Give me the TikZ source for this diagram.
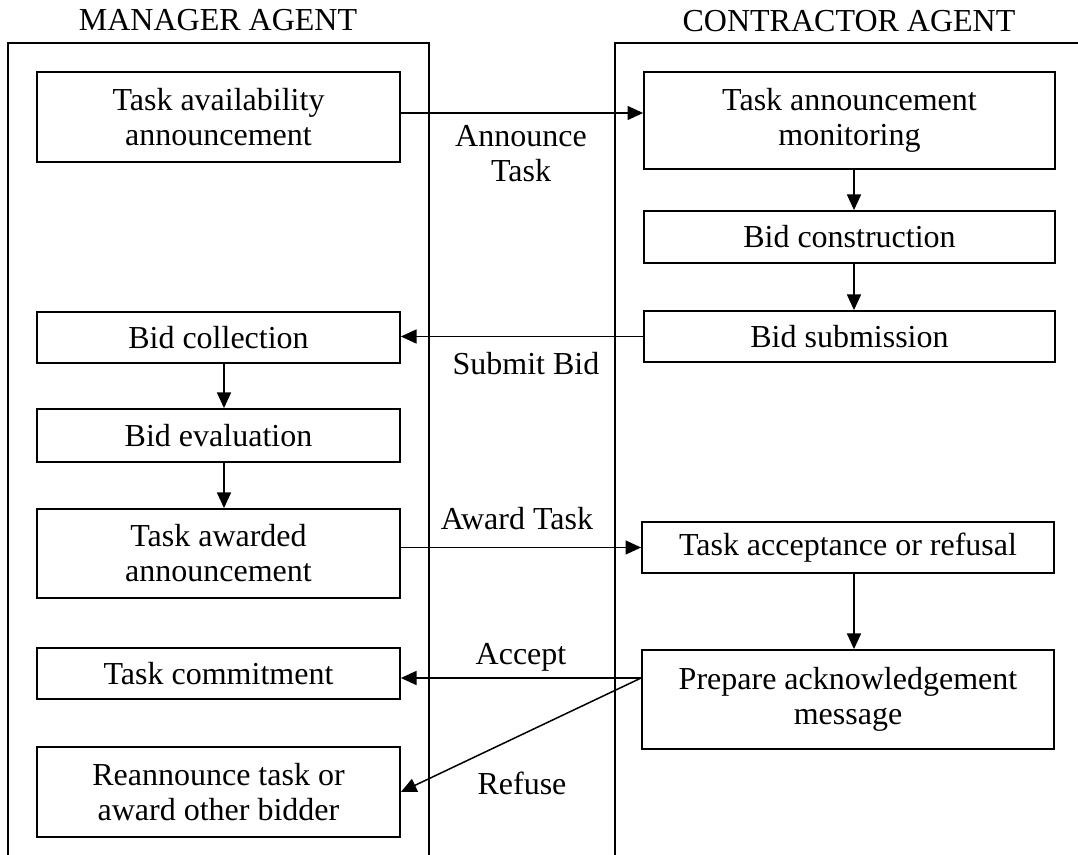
\documentclass[tikz,border=0pt]{standalone}
\usepackage{fontspec}
\setmainfont{Liberation Serif}
\usetikzlibrary{arrows.meta}
\begin{document}
\begin{tikzpicture}[x=0.5pt,y=-0.5pt,
  txt/.style={font=\fontsize{16}{17.5}\selectfont, align=center, inner sep=0pt},
  stepbox/.style={txt, draw, line width=0.9pt},
  mbox/.style={stepbox, minimum width=181.5pt},
  cbox/.style={stepbox, minimum width=205.5pt},
  lane/.style={line width=0.9pt},
  flow/.style={line width=0.75pt, -{Triangle[length=7.8pt,width=7pt]}},
  lbl/.style={txt}
]
\useasboundingbox (0,0) rectangle (1078,855);

% swimlanes, open at the bottom
\draw[lane] (8,860) -- (8,43) -- (429,43) -- (429,860);
\draw[lane] (615,860) -- (615,43) -- (1080,43);
\node[txt, anchor=base] (mtitle) at (218,31) {MANAGER AGENT};
\node[txt, anchor=base] (ctitle) at (849,32) {CONTRACTOR AGENT};

% manager steps
\node[mbox, minimum height=45pt]   (mA) at (218.5,117)   {Task availability\\announcement};
\node[mbox, minimum height=25.5pt] (mB) at (218.5,337.5) {Bid collection};
\node[mbox, minimum height=26.5pt] (mC) at (218.5,435.5) {Bid evaluation};
\node[mbox, minimum height=44.5pt] (mD) at (218.5,553.5) {Task awarded\\announcement};
\node[mbox, minimum height=25.5pt] (mE) at (218.5,673.5) {Task commitment};
\node[mbox, minimum height=45pt]   (mF) at (218.5,792)   {Reannounce task or\\award other bidder};

% contractor steps
\node[cbox, minimum height=48.5pt] (cA) at (849.5,120.5) {Task announcement\\monitoring};
\node[cbox, minimum height=26pt]   (cB) at (849.5,237)   {Bid construction};
\node[cbox, minimum height=25.5pt] (cC) at (849.5,336.5) {Bid submission};
\node[cbox, minimum width=206pt, minimum height=25.5pt] (cD) at (848,547.5) {Task acceptance or refusal};
\node[cbox, minimum width=206pt, minimum height=49.5pt] (cE) at (848,699.5) {Prepare acknowledgement\\message};

% internal flow
\draw[flow] ([xshift=2.75pt]mB.south) -- ([xshift=2.75pt]mB.south |- mC.north);
\draw[flow] ([xshift=2.75pt]mC.south) -- ([xshift=2.75pt]mC.south |- mD.north);
\draw[flow] ([xshift=2.25pt]cA.south) -- ([xshift=2.25pt]cA.south |- cB.north);
\draw[flow] ([xshift=2.25pt]cB.south) -- ([xshift=2.25pt]cB.south |- cC.north);
\draw[flow] ([xshift=3pt]cD.south) -- ([xshift=3pt]cD.south |- cE.north);

% messages between agents
\coordinate (ann) at ([yshift=2pt]mA.east);
\draw[flow] (ann) -- (ann -| cA.west);
\node[lbl] (lann) at (521,154) {Announce\\Task};

\draw[flow] (cC.west) -- (cC.west -| mB.east);
\node[lbl, anchor=base] (lsub) at (526,375) {Submit Bid};

\draw[flow] (mD.east |- cD.west) -- (cD.west);
\node[lbl, anchor=base] (lawd) at (517,530) {Award Task};

\coordinate (ack) at ([yshift=10.75pt]cE.west);
\draw[flow] (ack) -- (ack -| mE.east);
\node[lbl, anchor=base] (lacc) at (521,665) {Accept};

\draw[flow] (ack) -- (mF.east);
\node[lbl, anchor=base] (lref) at (522,795) {Refuse};
\end{tikzpicture}
\end{document}
